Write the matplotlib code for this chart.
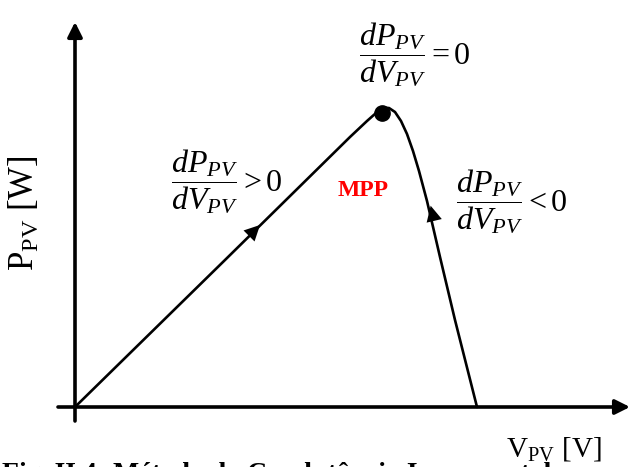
import numpy as np
import matplotlib
matplotlib.use("Agg")
import matplotlib.pyplot as plt

plt.rcParams["font.family"] = ["Liberation Serif", "DejaVu Serif"]
plt.rcParams["mathtext.fontset"] = "custom"
plt.rcParams["mathtext.rm"] = "Liberation Serif"
plt.rcParams["mathtext.it"] = "Liberation Serif:italic"
plt.rcParams["mathtext.bf"] = "Liberation Serif:bold"

# P-V curve of a PV panel (arbitrary units), rising branch and falling branch
v_rise = [0.0, 15.0, 27.5, 29.2, 30.1, 30.8]
p_rise = [0.0, 14.7, 27.0, 28.6, 29.4, 29.9]
v_fall = [30.8, 31.4, 32.0, 32.6, 33.2, 33.8, 34.4, 35.2, 36.5, 38.0, 40.2]
p_fall = [29.9, 29.9, 29.5, 28.6, 27.3, 25.6, 23.6, 20.6, 15.0, 8.7, 0.0]

v_mpp, p_mpp = 30.7, 29.4

fig = plt.figure(figsize=(6.3, 4.67), dpi=100)
ax = fig.add_axes([0, 0, 1, 1])
ax.set_xlim(-7.5, 55.5)
ax.set_ylim(-6.0, 40.7)
ax.axis("off")

v = np.array(v_rise + v_fall[1:])
p = np.array(p_rise + p_fall[1:])
ax.plot(v, p, color="black", lw=1.9, solid_capstyle="round", solid_joinstyle="round")
ax.plot(v_mpp, p_mpp, "o", color="black", ms=11)

# direction arrows along each branch
head = dict(arrowstyle="-|>", color="black", lw=0, mutation_scale=28)
ax.annotate("", xy=(18.7, 18.4), xytext=(17.0, 16.7), arrowprops=head)
ax.annotate("", xy=(35.5, 20.4), xytext=(35.95, 18.5), arrowprops=head)

# axes with arrow heads
axis_arrow = dict(arrowstyle="-|>", color="black", lw=2.6, mutation_scale=22,
                  shrinkA=0, shrinkB=0)
ax.annotate("", xy=(0, 38.5), xytext=(0, -1.4), arrowprops=axis_arrow)
ax.annotate("", xy=(55.5, 0), xytext=(-1.7, 0), arrowprops=axis_arrow)

ax.text(34.0, 35.2, r"$\dfrac{dP_{PV}}{dV_{PV}}=0$", fontsize=23, ha="center", va="center")
ax.text(15.2, 22.5, r"$\dfrac{dP_{PV}}{dV_{PV}}>0$", fontsize=23, ha="center", va="center")
ax.text(43.7, 20.5, r"$\dfrac{dP_{PV}}{dV_{PV}}<0$", fontsize=23, ha="center", va="center")
ax.text(28.8, 21.7, "MPP", color="red", fontsize=17, fontweight="bold", ha="center", va="center")

ax.text(47.9, -4.2, r"V$_{\rm PV}$ [V]", fontsize=21, ha="center", va="center")
ax.text(-5.0, 19.4, r"P$_{\rm PV}$ [W]", fontsize=25, ha="center", va="center", rotation=90)

fig.text(0.003, 1 - 462 / 467, "Fig. II.4: Método da Condutância Incremental",
         fontsize=20, fontweight="bold", ha="left", va="top")

fig.savefig("out.png", dpi=100)
